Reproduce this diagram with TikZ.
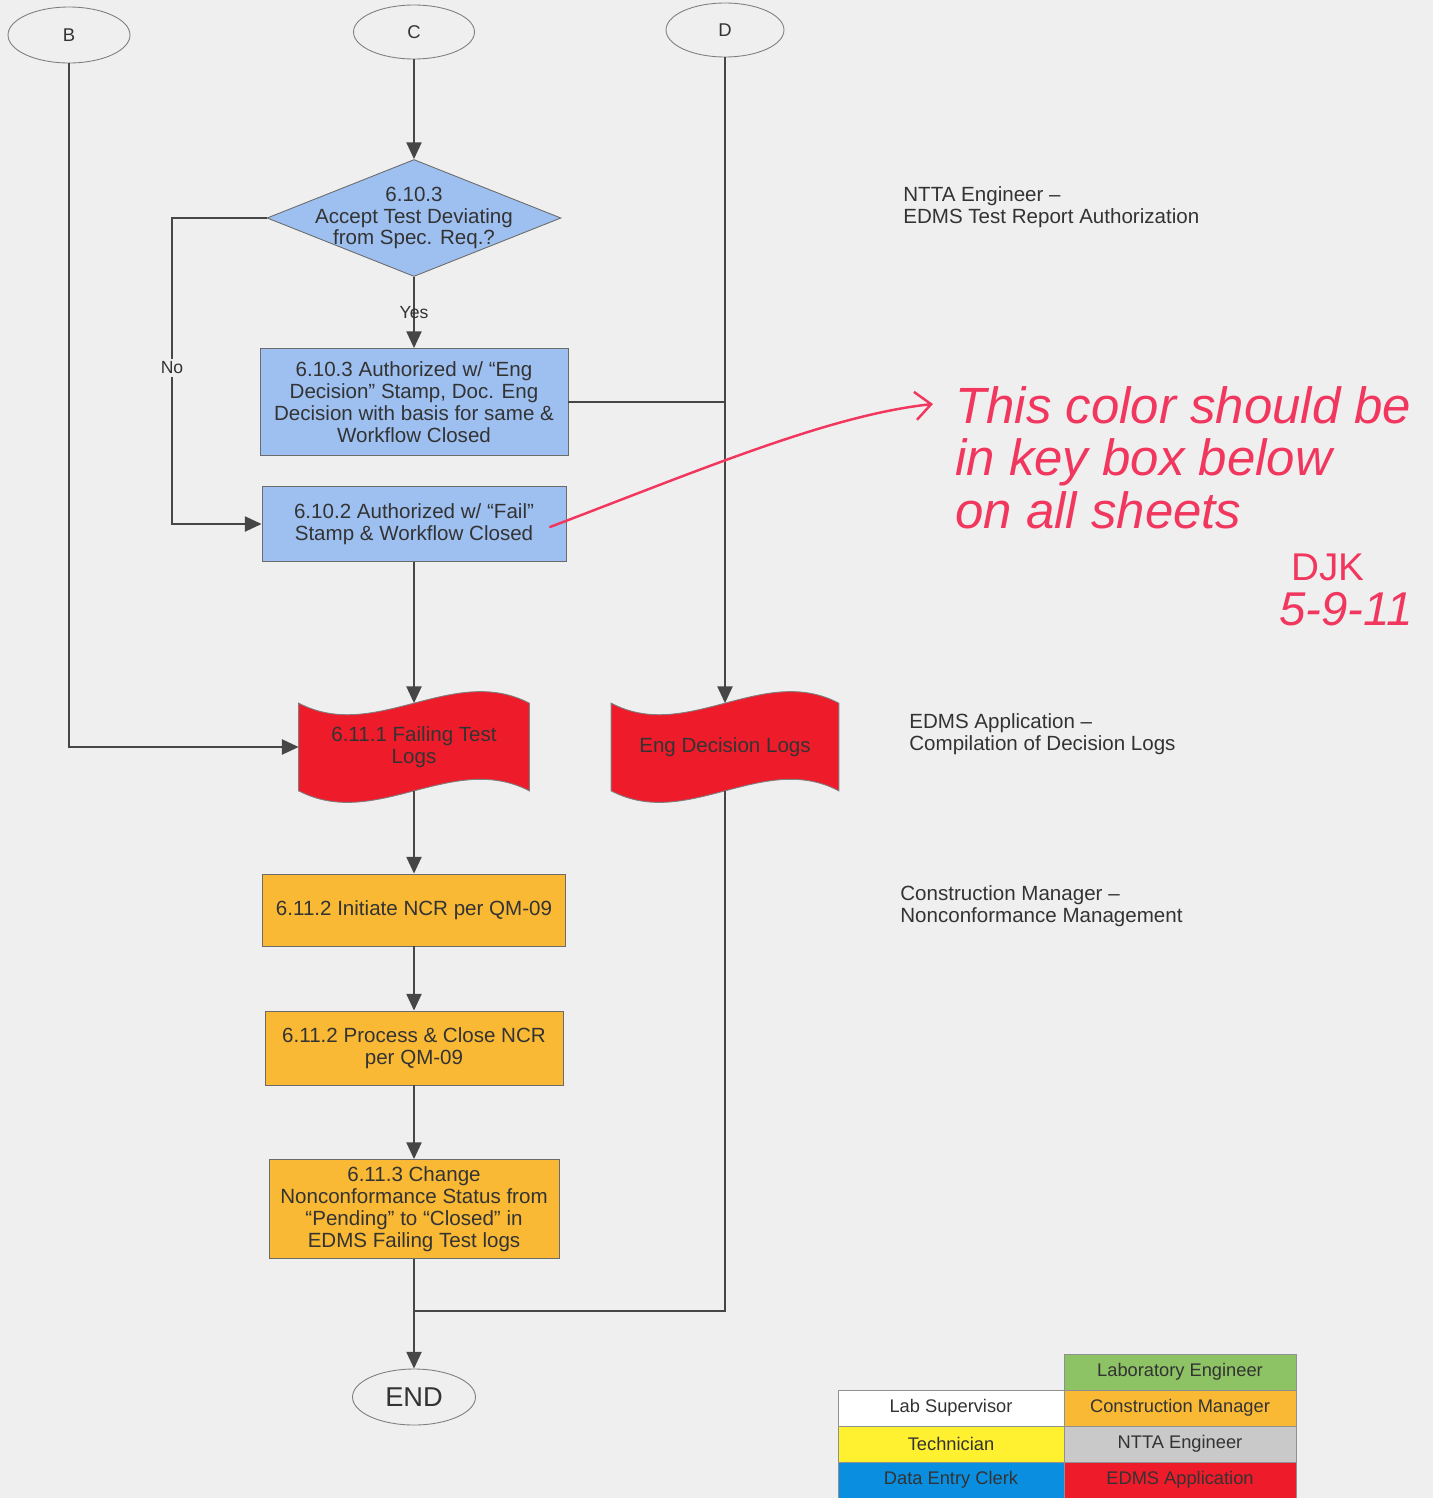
\documentclass[tikz,border=0pt]{standalone}
\usepackage{fontspec}
\setmainfont{Liberation Sans}
\usepackage{tikz}
\usetikzlibrary{shapes.geometric,arrows.meta,backgrounds}

\definecolor{pagegray}{HTML}{EFEFEF}
\definecolor{linegray}{HTML}{464646}
\definecolor{textgray}{HTML}{333333}
\definecolor{nttablue}{HTML}{9EC0F0}
\definecolor{cmorange}{HTML}{F9B934}
\definecolor{edmsred}{HTML}{EE1C2A}
\definecolor{labgreen}{HTML}{8DC265}
\definecolor{techyellow}{HTML}{FFF030}
\definecolor{keygray}{HTML}{C9C9C9}
\definecolor{clerkblue}{HTML}{0A8FE0}
\definecolor{penred}{HTML}{F2375F}

\tikzset{
  every node/.style={text=textgray, font=\fontsize{11.7}{12.4}\selectfont},
  flow/.style={draw=linegray, line width=1.3pt},
  flowarrow/.style={flow, -{Triangle[length=9.5pt,width=8.5pt]}},
  terminal/.style={ellipse, draw=linegray!70, line width=0.5pt, minimum width=2.42cm, minimum height=1.08cm, inner sep=0pt, font=\fontsize{10.5}{12}\selectfont},
  process/.style={rectangle, draw=linegray!80, line width=0.5pt, align=center, inner sep=2pt},
  decision/.style={diamond, draw=linegray!80, line width=0.5pt, fill=nttablue, inner sep=0pt, minimum width=5.88cm, minimum height=2.34cm},
  logdoc/.style={rectangle, align=center, minimum height=1.74cm, inner sep=0pt},
  keycell/.style={rectangle, draw=linegray!60, line width=0.5pt, minimum height=0.72cm, inner sep=0pt, font=\fontsize{10.4}{12}\selectfont},
  role/.style={align=left, anchor=west, inner sep=0pt},
  branch/.style={font=\fontsize{10}{11}\selectfont},
  pen/.style={text=penred, inner sep=0pt, font=\itshape\fontsize{29}{30}\selectfont},
}

\begin{document}
\begin{tikzpicture}[x=0.02cm, y=-0.02cm]
    \useasboundingbox (0,0) rectangle (1433,1498);

    % off-page connectors
    \node[terminal, minimum width=2.44cm, minimum height=1.12cm] (B) at (69,35) {B};
    \node[terminal] (C) at (414,32) {C};
    \node[terminal, minimum width=2.36cm] (D) at (725,30) {D};

    % NTTA engineer
    \node[decision] (accept) at (414,218) {};
    \node[align=center] (acceptText) at (414,218) {6.10.3\\Accept Test Deviating\\from Spec. Req.?};
    \node[process, fill=nttablue, minimum width=6.16cm, minimum height=2.14cm] (engStamp) at (414,402) {6.10.3 Authorized w/ “Eng\\Decision” Stamp, Doc. Eng\\Decision with basis for same \&\\Workflow Closed};
    \node[process, fill=nttablue, minimum width=6.08cm, minimum height=1.5cm] (failStamp) at (414,524) {6.10.2 Authorized w/ “Fail”\\Stamp \& Workflow Closed};

    % EDMS logs
    \node[logdoc, minimum width=4.6cm] (failLogs) at (414,747) {6.11.1 Failing Test\\Logs};
    \node[logdoc, minimum width=4.54cm] (engLogs) at (725,747) {Eng Decision Logs};

    % construction manager
    \node[process, fill=cmorange, minimum width=6.06cm, minimum height=1.44cm] (initNcr) at (414,910) {6.11.2 Initiate NCR per QM-09};
    \node[process, fill=cmorange, minimum width=5.96cm, minimum height=1.48cm] (closeNcr) at (414,1048) {6.11.2 Process \& Close NCR\\per QM-09};
    \node[process, fill=cmorange, minimum width=5.8cm, minimum height=1.98cm] (status) at (414,1209) {6.11.3 Change\\Nonconformance Status from\\“Pending” to “Closed” in\\EDMS Failing Test logs};
    \node[terminal, minimum width=2.46cm, minimum height=1.12cm, font=\fontsize{15.5}{17}\selectfont] (end) at (414,1397) {END};

    % connectors
    \coordinate (noBend) at (172,218);
    \coordinate (merge) at (414,1311);
    \draw[flowarrow] (C) -- (accept);
    \draw[flowarrow] (accept) -- node[branch] {Yes} (engStamp);
    \draw[flowarrow] (accept.west) -- (noBend) |- node[branch, pos=0.245, fill=pagegray, inner sep=1.5pt] {No} (failStamp.west);
    \draw[flow] (engStamp.east) -- (engStamp.east -| D);
    \draw[flowarrow] (D) -- (engLogs);
    \draw[flowarrow] (failStamp) -- (failLogs);
    \draw[flowarrow] (B) |- (failLogs.west);
    \draw[flowarrow] (failLogs) -- (initNcr);
    \draw[flowarrow] (initNcr) -- (closeNcr);
    \draw[flowarrow] (closeNcr) -- (status);
    \draw[flowarrow] (status) -- (end);
    \draw[flow] (engLogs) |- (merge);

    % lane notes
    \node[role] (nttaRole) at (903,207) {NTTA Engineer –\\EDMS Test Report Authorization};
    \node[role] (edmsRole) at (909,734) {EDMS Application –\\Compilation of Decision Logs};
    \node[role] (cmRole) at (900,906) {Construction Manager –\\Nonconformance Management};

    % key box
    \node[keycell, fill=labgreen, minimum width=4.64cm] (keyLabEng) at (1180,1372) {Laboratory Engineer};
    \node[keycell, fill=white, minimum width=4.52cm] (keyLabSup) at (951,1408) {Lab Supervisor};
    \node[keycell, fill=cmorange, minimum width=4.64cm] (keyCm) at (1180,1408) {Construction Manager};
    \node[keycell, fill=techyellow, minimum width=4.52cm] (keyTech) at (951,1444) {Technician};
    \node[keycell, fill=keygray, minimum width=4.64cm] (keyNtta) at (1180,1444) {NTTA Engineer};
    \node[keycell, fill=clerkblue, minimum width=4.52cm] (keyClerk) at (951,1480) {Data Entry Clerk};
    \node[keycell, fill=edmsred, minimum width=4.64cm] (keyEdms) at (1180,1480) {EDMS Application};

    % review note
    \node[pen, anchor=north west, align=left] (note) at (955,386) {This color should be\\in key box below\\on all sheets};
    \node[pen, font=\fontsize{22}{24}\selectfont] (initials) at (1328,567) {DJK};
    \node[pen, font=\itshape\fontsize{27}{30}\selectfont] (dated) at (1346,609) {5-9-11};
    \coordinate (penStart) at (550,527);
    \coordinate (penTip) at (933,404);
    \draw[penred, line width=1.4pt, line cap=round, -{Straight Barb[length=9pt,width=16pt]}] (penStart) .. controls (700,470) and (830,415) .. (penTip);

    \begin{scope}[on background layer]
        \fill[pagegray] (0,0) rectangle (1433,1498);
        \filldraw[fill=edmsred, draw=linegray!70, line width=0.5pt] (failLogs.north west) .. controls +(77,40) and +(-77,-40) .. (failLogs.north east) -- (failLogs.south east) .. controls +(-77,-40) and +(77,40) .. (failLogs.south west) -- cycle;
        \filldraw[fill=edmsred, draw=linegray!70, line width=0.5pt] (engLogs.north west) .. controls +(76,40) and +(-76,-40) .. (engLogs.north east) -- (engLogs.south east) .. controls +(-76,-40) and +(76,40) .. (engLogs.south west) -- cycle;
    \end{scope}
\end{tikzpicture}
\end{document}
